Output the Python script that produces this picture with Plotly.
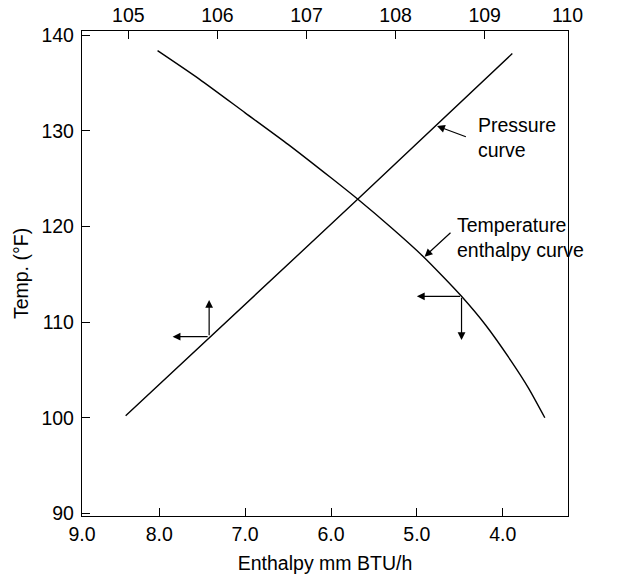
import plotly.graph_objects as go

# temperature-enthalpy curve (bottom axis: enthalpy mm BTU/h)
enthalpy = [8.02, 7.53, 7.00, 6.50, 6.00, 5.68, 5.30, 4.93, 4.70, 4.48, 4.20, 3.90, 3.70, 3.51]
temp_enthalpy = [138.4, 135.4, 131.9, 128.6, 125.1, 122.8, 119.9, 116.9, 114.8, 112.7, 109.7, 105.9, 103.1, 100.0]

# pressure curve (top axis)
pressure = [104.97, 107.58, 109.31]
temp_pressure = [100.2, 122.9, 138.1]

bottom_ticks = [8.9, 8.0, 7.0, 6.0, 5.0, 4.0]
bottom_labels = ["9.0", "8.0", "7.0", "6.0", "5.0", "4.0"]
top_ticks = [105, 106, 107, 108, 109, 109.93]
top_labels = ["105", "106", "107", "108", "109", "110"]
temp_ticks = [90, 100, 110, 120, 130, 140]

font = dict(family="Liberation Sans, Arial, sans-serif", size=19.5, color="black")

#curves
trace_temp = go.Scatter(x=enthalpy, y=temp_enthalpy, mode='lines', line=dict(color='black', width=1.4, shape='spline', smoothing=0.6), xaxis='x', yaxis='y', showlegend=False, hoverinfo='skip')
trace_pres = go.Scatter(x=pressure, y=temp_pressure, mode='lines', line=dict(color='black', width=1.4), xaxis='x2', yaxis='y', showlegend=False, hoverinfo='skip')

axis_common = dict(showline=True, linecolor='black', linewidth=1.3, ticks='inside', ticklen=8, tickwidth=1.1, tickcolor='black', showgrid=False, zeroline=False, tickfont=font, automargin=False)

layout = go.Layout(
    width=624, height=578,
    margin=dict(l=82, r=56, t=31, b=62),
    plot_bgcolor='white', paper_bgcolor='white',
    font=font,
    xaxis=dict(axis_common, range=[8.90, 3.24], tickvals=bottom_ticks, ticktext=bottom_labels,
               title=dict(text='Enthalpy mm BTU/h', font=font, standoff=12)),
    xaxis2=dict(axis_common, range=[104.48, 109.935], tickvals=top_ticks, ticktext=top_labels,
                overlaying='x', side='top'),
    yaxis=dict(axis_common, range=[89.72, 140.46], tickvals=temp_ticks, mirror=True, ticklabelstandoff=3,
               title=dict(text='Temp. (°F)', font=font, standoff=7)),
)

fig = go.Figure(data=[trace_temp, trace_pres], layout=layout)

arrow = dict(showarrow=True, arrowhead=2, arrowsize=1.3, arrowwidth=1.2, arrowcolor='black', text='', standoff=0)

# arrows on the pressure curve (read to top axis and temp axis)
fig.add_annotation(arrow, x=105.907, y=112.32, ax=105.907, ay=108.48, xref='x2', yref='y', axref='x2', ayref='y')
fig.add_annotation(arrow, x=105.497, y=108.48, ax=105.907, ay=108.48, xref='x2', yref='y', axref='x2', ayref='y')

# arrows on the temperature curve (read to enthalpy and temp axis)
fig.add_annotation(arrow, x=5.0, y=112.7, ax=4.48, ay=112.7, xref='x', yref='y', axref='x', ayref='y')
fig.add_annotation(arrow, x=4.48, y=108.14, ax=4.48, ay=112.7, xref='x', yref='y', axref='x', ayref='y')

# labels with pointer arrows
fig.add_annotation(arrow, x=4.765, y=130.52, ax=4.412, ay=129.34, xref='x', yref='y', axref='x', ayref='y')
fig.add_annotation(arrow, x=4.91, y=116.85, ax=4.591, ay=119.5, xref='x', yref='y', axref='x', ayref='y')
fig.add_annotation(x=4.311, y=129.32, text='Pressure<br>curve', showarrow=False, xanchor='left', yanchor='middle', align='left', font=font, xref='x', yref='y')
fig.add_annotation(x=4.556, y=118.86, text='Temperature<br>enthalpy curve', showarrow=False, xanchor='left', yanchor='middle', align='left', font=font, xref='x', yref='y')

# drop the default page margin so the figure fills the window
fig.write_html("out.html", config={'displayModeBar': False}, post_script="document.body.style.margin='0';")
